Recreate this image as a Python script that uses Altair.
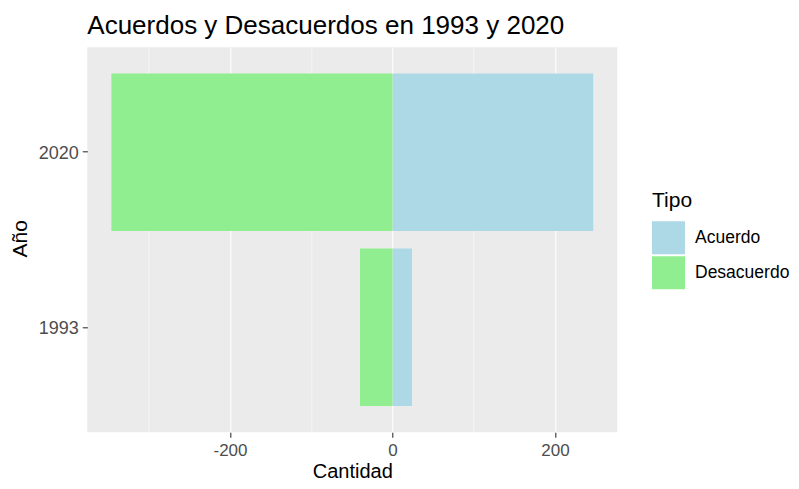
import altair as alt
import pandas as pd

years = ["2020", "2020", "1993", "1993"]
tipos = ["Acuerdo", "Desacuerdo", "Acuerdo", "Desacuerdo"]
cantidades = [247, -346, 24, -40]

year_order = ["2020", "1993"]
tipo_order = ["Acuerdo", "Desacuerdo"]
tipo_colors = ["#ADD8E6", "#90EE90"]
x_ticks = [-300, -200, -100, 0, 100, 200]

df = pd.DataFrame({"Año": years, "Tipo": tipos, "Cantidad": cantidades})

lo, hi = min(cantidades), max(cantidades)
pad = 0.05 * (hi - lo)
FONT = "Liberation Sans"

chart = alt.Chart(df).mark_bar().encode(
    x=alt.X(
        "Cantidad:Q",
        stack=None,
        scale=alt.Scale(domain=[lo - pad, hi + pad], nice=False, zero=False),
        axis=alt.Axis(
            title="Cantidad",
            values=x_ticks,
            labelExpr="datum.value % 200 === 0 ? '' + datum.value : ''",
            gridColor="white",
            gridWidth=alt.condition("datum.value % 200 === 0", alt.value(1.1), alt.value(0.55)),
            tickOpacity=alt.condition("datum.value % 200 === 0", alt.value(1), alt.value(0)),
            tickColor="#333333",
            tickSize=5,
            tickWidth=1.1,
            domain=False,
            labelFont=FONT,
            labelFontSize=17,
            labelColor="#4D4D4D",
            labelPadding=5,
            titleFont=FONT,
            titleFontSize=20,
            titleFontWeight="normal",
            titleColor="black",
            titleBaseline="alphabetic",
            titleY=45.5,
        ),
    ),
    y=alt.Y(
        "Año:N",
        sort=year_order,
        scale=alt.Scale(paddingInner=0.1, paddingOuter=0.15),
        axis=alt.Axis(
            title="Año",
            bandPosition=0.5,
            gridColor="white",
            gridWidth=1.1,
            tickColor="#333333",
            tickSize=5,
            tickWidth=1.1,
            domain=False,
            labelFont=FONT,
            labelFontSize=18,
            labelColor="#4D4D4D",
            labelPadding=4,
            labelOffset=2,
            titleFont=FONT,
            titleFontSize=21,
            titleFontWeight="normal",
            titleColor="black",
            titleBaseline="alphabetic",
            titleX=-61,
            titleY=191,
            titleAngle=-90,
        ),
    ),
    color=alt.Color(
        "Tipo:N",
        scale=alt.Scale(domain=tipo_order, range=tipo_colors),
        legend=alt.Legend(
            title="Tipo",
            orient="none",
            legendX=564.7,
            legendY=143,
            padding=0,
            symbolType="square",
            symbolSize=1089,
            symbolStrokeWidth=0,
            symbolOpacity=1,
            rowPadding=2,
            labelOffset=10,
            labelFont=FONT,
            labelFontSize=17.5,
            labelColor="black",
            titleFont=FONT,
            titleFontSize=21,
            titleFontWeight="normal",
            titleColor="black",
            titlePadding=10,
        ),
    ),
).properties(
    width=530,
    height=385,
    title=alt.TitleParams(
        "Acuerdos y Desacuerdos en 1993 y 2020",
        anchor="start",
        frame="group",
        font=FONT,
        fontSize=26,
        fontWeight="normal",
        color="black",
        baseline="alphabetic",
        offset=15,
        dy=28,
    ),
    autosize=alt.AutoSizeParams(type="none"),
    padding={"left": 79.3, "top": 39.3, "right": 173.7, "bottom": 48.7},
).configure_view(
    fill="#EBEBEB", stroke=None
).configure_mark(opacity=1)

chart.save("out.html", embed_options={"renderer": "svg", "actions": False})
